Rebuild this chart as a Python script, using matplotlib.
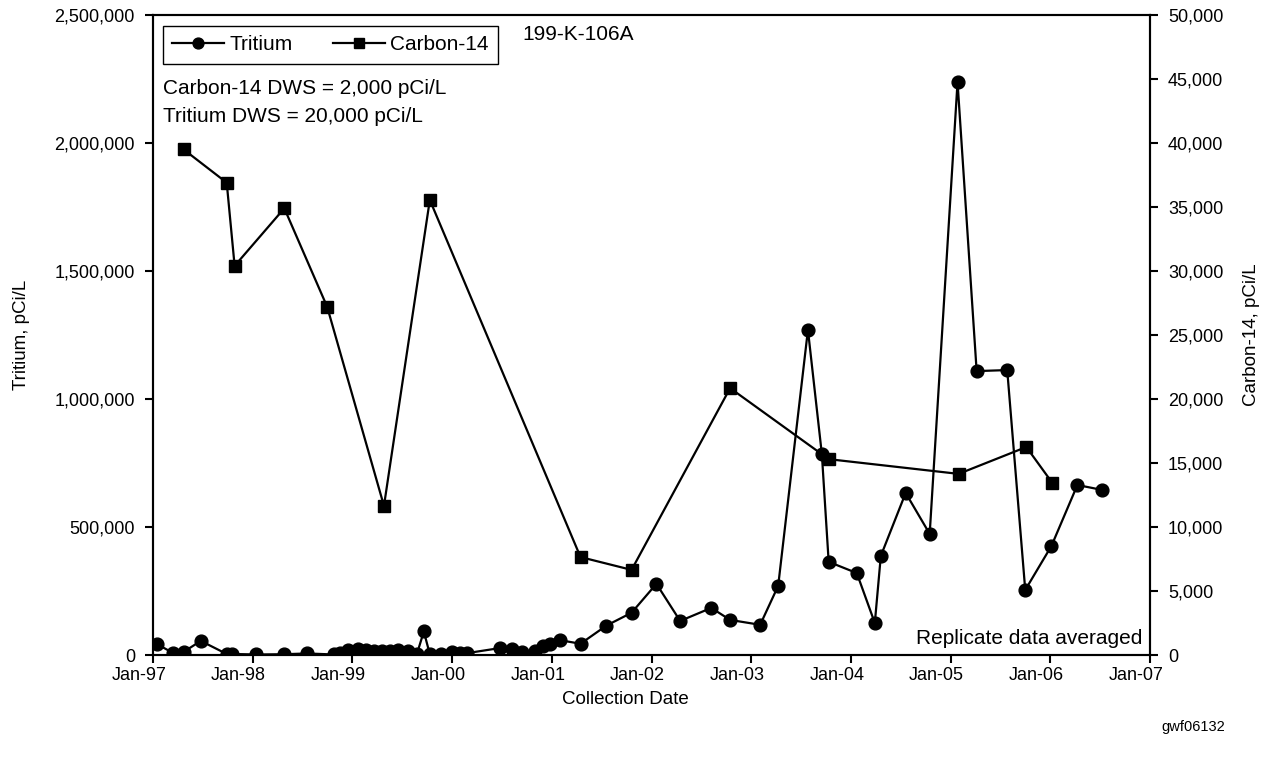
import matplotlib
matplotlib.use("Agg")
import matplotlib.pyplot as plt
import matplotlib.dates as mdates
from matplotlib.ticker import FuncFormatter, FixedLocator, NullFormatter
from matplotlib.transforms import ScaledTranslation, blended_transform_factory
import pandas as pd

plt.rcParams['font.family'] = ['Liberation Sans', 'DejaVu Sans']

tritium_dates = [
    "1997-01-15", "1997-03-15", "1997-04-23", "1997-06-25", "1997-09-28", "1997-10-16",
    "1998-01-15", "1998-04-27", "1998-07-19", "1998-10-26", "1998-11-17", "1998-12-16",
    "1999-01-22", "1999-02-20", "1999-03-21", "1999-04-20", "1999-05-19", "1999-06-18",
    "1999-07-24", "1999-08-26", "1999-09-20", "1999-10-12", "1999-11-21", "2000-01-01",
    "2000-01-30", "2000-02-24", "2000-06-24", "2000-08-07", "2000-09-12", "2000-10-30",
    "2000-11-28", "2000-12-27", "2001-01-30", "2001-04-16", "2001-07-20", "2001-10-20",
    "2002-01-19", "2002-04-16", "2002-08-08", "2002-10-16", "2003-02-03", "2003-04-10",
    "2003-07-28", "2003-09-17", "2003-10-12", "2004-01-23", "2004-03-29", "2004-04-20",
    "2004-07-20", "2004-10-16", "2005-01-26", "2005-04-06", "2005-07-27", "2005-10-01",
    "2006-01-05", "2006-04-10", "2006-07-09",
]
tritium_values = [
    43000, 8000, 12000, 55000, 4000, 4000,
    2000, 3000, 6000, 2000, 7000, 18000,
    25000, 18000, 17000, 17000, 17000, 18000,
    15000, 5000, 92000, 3000, 5000, 10000,
    8000, 7000, 27000, 23000, 12000, 15000,
    35000, 42000, 58000, 44000, 115000, 165000,
    278000, 133000, 184000, 137000, 118000, 270000,
    1270000, 785000, 364000, 320000, 125000, 387000,
    633000, 473000, 2238000, 1109000, 1113000, 254000,
    426000, 664000, 645000,
]

c14_dates = [
    "1997-04-23", "1997-09-28", "1997-10-27", "1998-04-27", "1998-10-01", "1999-04-27",
    "1999-10-12", "2001-04-16", "2001-10-20", "2002-10-16", "2003-10-12", "2005-01-30",
    "2005-10-05", "2006-01-08",
]
c14_values = [
    39500, 36900, 30400, 34900, 27200, 11650,
    35550, 7650, 6650, 20850, 15300, 14150,
    16250, 13450,
]

x_tick_dates = [f"{y}-01-01" for y in range(1997, 2008)]
x_tick_labels = [f"Jan-{str(y)[2:]}" for y in range(1997, 2008)]
left_ticks = [0, 500000, 1000000, 1500000, 2000000, 2500000]
right_ticks = [0, 5000, 10000, 15000, 20000, 25000, 30000, 35000, 40000, 45000, 50000]

W, H = 1271, 765
fig = plt.figure(figsize=(W / 100, H / 100), dpi=100)
AX_L, AX_R, AX_T, AX_B = 153, 1150, 15, 655
AW, AH = AX_R - AX_L, AX_B - AX_T
ax = fig.add_axes([AX_L / W, 1 - AX_B / H, AW / W, AH / H])
ax2 = ax.twinx()

td = pd.to_datetime(tritium_dates)
cd = pd.to_datetime(c14_dates)

l1, = ax.plot(td, tritium_values, color='black', lw=1.6, marker='o', ms=9.2,
              label='Tritium', zorder=3)
l2, = ax2.plot(cd, c14_values, color='black', lw=1.6, marker='s', ms=9,
               label='Carbon-14', zorder=3)

xt = pd.to_datetime(x_tick_dates)
ax.set_xlim(xt[0], xt[-1])
xnum = mdates.date2num(xt)
ax.xaxis.set_major_locator(FixedLocator(xnum))
ax.xaxis.set_major_formatter(NullFormatter())

ax.set_ylim(0, 2500000)
ax.set_yticks(left_ticks)
ax2.set_ylim(0, 50000)
ax2.set_yticks(right_ticks)
fmt = FuncFormatter(lambda v, p: f"{int(v):,}")
ax.yaxis.set_major_formatter(fmt)
ax2.yaxis.set_major_formatter(fmt)

fs = 15        # in-plot text
tfs = 13       # tick labels
afs = 13.5     # axis titles
for a in (ax, ax2):
    a.tick_params(axis='both', which='major', direction='out', length=6, width=1.5,
                  labelsize=tfs, colors='black', pad=7)
    for s in a.spines.values():
        s.set_linewidth(1.5)
        s.set_color('black')

# x tick labels sit slightly left of their tick marks, as in the original
xlab_tr = blended_transform_factory(ax.transData, ax.transAxes) + \
    ScaledTranslation(-14 / 100, -21 / 100, fig.dpi_scale_trans)
for xv, lab in zip(xnum, x_tick_labels):
    ax.text(xv, 0, lab, transform=xlab_tr, fontsize=tfs, ha='center', va='center',
            clip_on=False)

ax.set_xlabel('Collection Date', fontsize=afs)
ax.xaxis.set_label_coords((625 - AX_L) / AW, -(700 - AX_B) / AH)
ax.xaxis.label.set_va('center')
ax.set_ylabel('Tritium, pCi/L', fontsize=afs)
ax.yaxis.set_label_coords(-(AX_L - 22) / AW, 0.5)
ax.yaxis.label.set_va('center')
ax2.set_ylabel('Carbon-14, pCi/L', fontsize=afs)
ax2.yaxis.set_label_coords(1 + (1252 - AX_R) / AW, 0.5)
ax2.yaxis.label.set_va('center')

leg = ax2.legend(handles=[l1, l2], loc='upper left', ncol=2, frameon=True,
                 fancybox=False, edgecolor='black', framealpha=1, fontsize=fs,
                 handlelength=2.5, columnspacing=1.9, handletextpad=0.25,
                 borderpad=0.45, bbox_to_anchor=(10 / AW, 1 - 11 / AH),
                 borderaxespad=0, markerscale=0.85)
leg.get_frame().set_linewidth(1.0)

ax2.text(10 / AW, 1 - 73 / AH, 'Carbon-14 DWS = 2,000 pCi/L', transform=ax2.transAxes,
         fontsize=fs, va='center', ha='left')
ax2.text(10 / AW, 1 - 102 / AH, 'Tritium DWS = 20,000 pCi/L', transform=ax2.transAxes,
         fontsize=fs, va='center', ha='left')
ax2.text((578 - AX_L) / AW, 1 - 19 / AH, '199-K-106A', transform=ax2.transAxes,
         fontsize=fs, va='center', ha='center')
ax2.text(1 - 8 / AW, 17 / AH, 'Replicate data averaged', transform=ax2.transAxes,
         fontsize=fs, va='center', ha='right')
fig.text(1225 / W, 1 - 727 / H, 'gwf06132', fontsize=10.5, ha='right', va='center')

fig.savefig('out.png', dpi=100)
